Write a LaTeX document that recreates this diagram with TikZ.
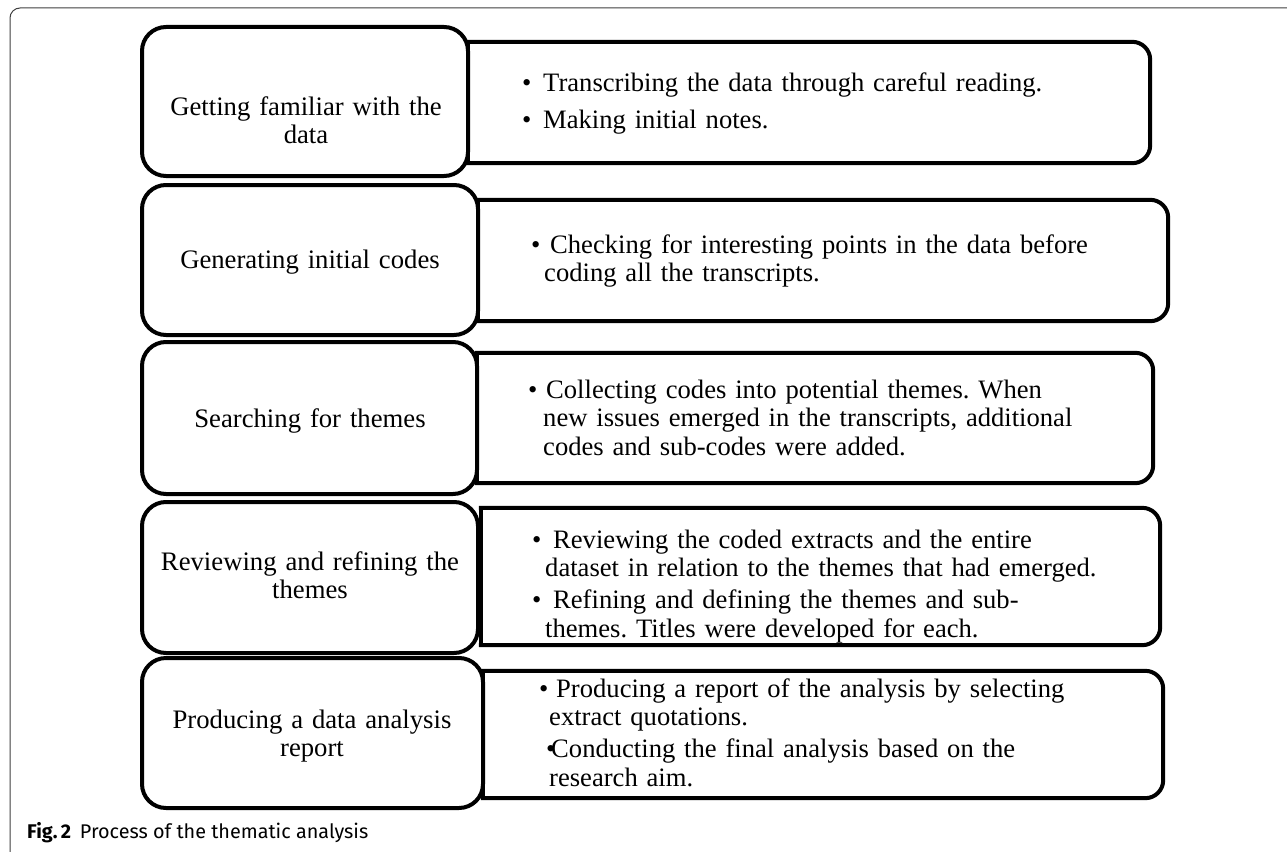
\documentclass[tikz,border=0pt]{standalone}
\usepackage{fontspec}
\setmainfont{Liberation Serif}
\newfontfamily\capfont{Fira Sans}
\newcommand{\blt}[1]{\makebox[#1][l]{\textbullet}}
\frenchspacing
\begin{document}
\begin{tikzpicture}[x=1pt,y=-1pt,
  lbox/.style={draw, line width=4pt, rounded corners=24pt, fill=white, inner sep=0pt},
  rb/.style={draw=none, inner sep=0pt},
  rline/.style={line width=4pt, line join=round, line cap=rect},
  ltext/.style={anchor=base, text width=340pt, align=center, inner sep=0pt, font=\fontsize{26.7}{28}\selectfont},
  rtext/.style={anchor=base west, text width=680pt, align=left, inner sep=0pt, font=\fontsize{26.6}{28.5}\selectfont},
  frame/.style={draw=black!75, line width=1pt}
]
\useasboundingbox (0,0) rectangle (1287,851);
\fill[white] (0,0) rectangle (1287,851);
\draw[frame, rounded corners=10pt] (10,860) -- (10,8) -- (1300,8);

% right boxes (drawn first)
\newcommand{\rbox}[1]{%
  \draw[rline, rounded corners=18pt] (#1.north west) -- (#1.north east) -- (#1.south east) -- (#1.south west);
  \draw[rline] (#1.south west) -- (#1.north west);}
\node[rb, minimum width=682pt, minimum height=121pt] (r1) at (809,102.5) {};
\node[rb, minimum width=690pt, minimum height=121pt] (r2) at (823,260.5) {};
\node[rb, minimum width=676pt, minimum height=130pt] (r3) at (815,418) {};
\node[rb, minimum width=679pt, minimum height=137pt] (r4) at (820.5,576.5) {};
\node[rb, minimum width=680pt, minimum height=127pt] (r5) at (823,734.5) {};
\rbox{r1}\rbox{r2}\rbox{r3}\rbox{r4}\rbox{r5}

% left boxes
\node[lbox, minimum width=326pt, minimum height=149pt] (l1) at (305,101.5) {};
\node[lbox, minimum width=336pt, minimum height=150pt] (l2) at (310,260) {};
\node[lbox, minimum width=335pt, minimum height=152pt] (l3) at (309.5,418) {};
\node[lbox, minimum width=336pt, minimum height=151pt] (l4) at (310,577.5) {};
\node[lbox, minimum width=341pt, minimum height=150pt] (l5) at (312.5,733) {};

% left texts
\node[ltext] (lt1) at (306,115) {Getting familiar with the\\data};
\node[ltext] (lt2) at (310,268) {Generating initial codes};
\node[ltext] (lt3) at (310,427) {Searching for themes};
\node[ltext] (lt4) at (310,570) {Reviewing and refining the\\themes};
\node[ltext] (lt5) at (312,728) {Producing a data analysis\\report};

% right texts
\node[rtext] (rt1) at (522,92) {\blt{21pt}Transcribing the data through careful reading.\\[7.5pt]
\blt{21pt}Making initial notes.};
\node[rtext] (rt2) at (531,253) {\blt{19pt}Checking for interesting points in the data before\\
\hspace*{13pt}coding all the transcripts.};
\node[rtext] (rt3) at (528,398) {\blt{18pt}Collecting codes into potential themes. When\\
\hspace*{15pt}new issues emerged in the transcripts, additional\\
\hspace*{15pt}codes and sub-codes were added.};
\node[rtext] (rt4) at (532,548) {\blt{21pt}Reviewing the coded extracts and the entire\\
\hspace*{13pt}dataset in relation to the themes that had emerged.\\[3.5pt]
\blt{21pt}Refining and defining the themes and sub-\\
\hspace*{13pt}themes. Titles were developed for each.};
\node[rtext] (rt5) at (539,697) {\blt{17pt}Producing a report of the analysis by selecting\\
\hspace*{10pt}extract quotations.\\[3.5pt]
\hspace*{7pt}\blt{5pt}Conducting the final analysis based on the\\
\hspace*{10pt}research aim.};

% caption
\node[anchor=base west, inner sep=0pt, font=\capfont\fontsize{19.8}{24}\selectfont] (cap) at (27,838) {\textbf{Fig.\,2}\hspace{0.45em}Process of the thematic analysis};
\end{tikzpicture}
\end{document}
